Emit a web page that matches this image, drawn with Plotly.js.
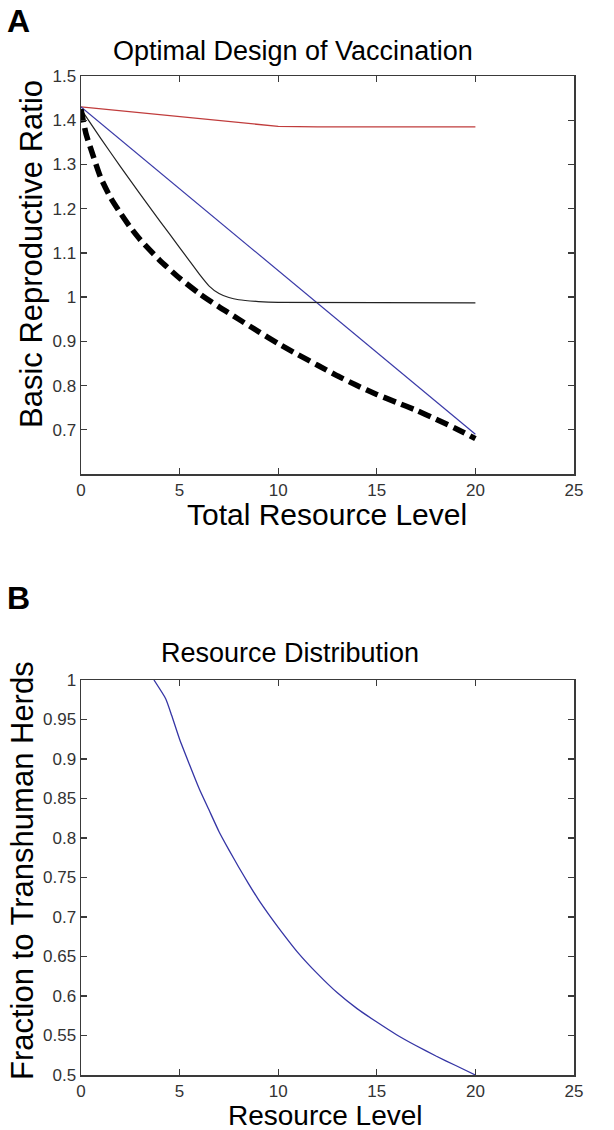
<!DOCTYPE html>
<html>
<head>
<meta charset="utf-8">
<script src="https://cdn.plot.ly/plotly-3.0.1.min.js"></script>
<style>
  html, body { margin: 0; padding: 0; background: #fff; }
  #chart { width: 614px; height: 1130px; }
</style>
</head>
<body>
<div id="chart"></div>
<script>
// Panel A: basic reproductive ratio against total resource level
const redLevel = [0, 2, 4, 6, 8, 10, 12, 20];
const redRatio = [1.43, 1.421, 1.412, 1.403, 1.394, 1.386, 1.385, 1.385];

const blueLevel = [0, 20];
const blueRatio = [1.43, 0.69];

const blackLevel = [0, 1, 2, 3, 4, 5, 5.5, 6, 6.5, 7, 7.5, 8, 9, 10, 20];
const blackRatio = [1.425, 1.359, 1.295, 1.233, 1.172, 1.112, 1.082, 1.052, 1.025, 1.008, 0.999, 0.994, 0.99, 0.988, 0.987];

const optimalLevel = [0, 0.25, 0.5, 1, 1.5, 2, 2.5, 3, 4, 5, 6, 7, 8, 9, 10, 11, 12, 13, 14, 15, 16, 17, 18, 19, 20];
const optimalRatio = [1.425, 1.37, 1.335, 1.27, 1.225, 1.19, 1.158, 1.13, 1.083, 1.043, 1.008, 0.978, 0.95, 0.922, 0.895, 0.87, 0.846, 0.822, 0.8, 0.78, 0.762, 0.744, 0.724, 0.703, 0.68];

// Panel B: fraction of resources going to transhuman herds
const resourceLevel = [3.7, 4.3, 4.6, 5.0, 5.5, 6.0, 6.5, 7.0, 7.5, 8.0, 8.5, 9.0, 9.5, 10, 11, 12, 13, 14, 15, 16, 17, 18, 19, 20];
const transhumanFraction = [1.0, 0.976, 0.955, 0.925, 0.893, 0.862, 0.835, 0.808, 0.785, 0.763, 0.742, 0.722, 0.704, 0.687, 0.655, 0.628, 0.604, 0.584, 0.567, 0.551, 0.537, 0.524, 0.512, 0.5];

// Tick labels
const xTicks = [0, 5, 10, 15, 20, 25];
const xTickText = ['0', '5', '10', '15', '20', '25'];
const ratioTicks = [0.7, 0.8, 0.9, 1.0, 1.1, 1.2, 1.3, 1.4, 1.5];
const ratioTickText = ['0.7', '0.8', '0.9', '1', '1.1', '1.2', '1.3', '1.4', '1.5'];
const fractionTicks = [0.5, 0.55, 0.6, 0.65, 0.7, 0.75, 0.8, 0.85, 0.9, 0.95, 1.0];
const fractionTickText = ['0.5', '0.55', '0.6', '0.65', '0.7', '0.75', '0.8', '0.85', '0.9', '0.95', '1'];

const FONT = 'Liberation Sans, Arial, Helvetica, sans-serif';
const W = 614, H = 1130;
const px = x => x / W;          // pixel column -> paper x
const py = y => 1 - y / H;      // pixel row -> paper y

const traces = [
  { x: redLevel, y: redRatio, mode: 'lines', line: { color: '#c03c3c', width: 1.3 }, xaxis: 'x', yaxis: 'y' },
  { x: blueLevel, y: blueRatio, mode: 'lines', line: { color: '#3a3aa8', width: 1.2 }, xaxis: 'x', yaxis: 'y' },
  { x: blackLevel, y: blackRatio, mode: 'lines', line: { color: '#222222', width: 1.2, shape: 'spline', smoothing: 0.4 }, xaxis: 'x', yaxis: 'y' },
  { x: optimalLevel, y: optimalRatio, mode: 'lines', line: { color: '#000000', width: 5.5, dash: '13px,6px', shape: 'spline', smoothing: 0.6 }, xaxis: 'x', yaxis: 'y' },
  { x: resourceLevel, y: transhumanFraction, mode: 'lines', line: { color: '#3535a5', width: 1.3, shape: 'spline', smoothing: 0.5 }, xaxis: 'x2', yaxis: 'y2' }
];

const axisBase = {
  showgrid: false,
  zeroline: false,
  showline: true,
  linecolor: '#3a3a3a',
  linewidth: 1.5,
  mirror: 'allticks',
  ticks: 'inside',
  ticklen: 6,
  tickwidth: 1.3,
  tickcolor: '#3a3a3a',
  tickfont: { family: FONT, size: 17, color: '#333333' },
  fixedrange: true
};

const layout = {
  width: W,
  height: H,
  margin: { l: 0, r: 0, t: 0, b: 0 },
  paper_bgcolor: '#ffffff',
  plot_bgcolor: '#ffffff',
  showlegend: false,
  xaxis: Object.assign({}, axisBase, {
    domain: [px(81), px(574)], range: [0, 25], anchor: 'y',
    tickmode: 'array', tickvals: xTicks, ticktext: xTickText
  }),
  yaxis: Object.assign({}, axisBase, {
    domain: [py(474), py(76)], range: [0.6, 1.5], anchor: 'x',
    tickmode: 'array', tickvals: ratioTicks, ticktext: ratioTickText
  }),
  xaxis2: Object.assign({}, axisBase, {
    domain: [px(81), px(574)], range: [0, 25], anchor: 'y2',
    tickmode: 'array', tickvals: xTicks, ticktext: xTickText
  }),
  yaxis2: Object.assign({}, axisBase, {
    domain: [py(1075), py(680)], range: [0.5, 1.0], anchor: 'x2',
    tickmode: 'array', tickvals: fractionTicks, ticktext: fractionTickText
  }),
  annotations: [
    { text: '<b>A</b>', x: px(5), y: py(21), xanchor: 'left', yanchor: 'middle', font: { family: FONT, size: 32, color: '#000' } },
    { text: '<b>B</b>', x: px(5), y: py(598), xanchor: 'left', yanchor: 'middle', font: { family: FONT, size: 32, color: '#000' } },
    { text: 'Optimal Design of Vaccination', x: px(293), y: py(51), xanchor: 'center', yanchor: 'middle', font: { family: FONT, size: 27, color: '#000' } },
    { text: 'Total Resource Level', x: px(327), y: py(514), xanchor: 'center', yanchor: 'middle', font: { family: FONT, size: 30, color: '#000' } },
    { text: 'Basic Reproductive Ratio', x: px(31), y: py(254), xanchor: 'center', yanchor: 'middle', textangle: -90, font: { family: FONT, size: 31, color: '#000' } },
    { text: 'Resource Distribution', x: px(290), y: py(653), xanchor: 'center', yanchor: 'middle', font: { family: FONT, size: 27, color: '#000' } },
    { text: 'Resource Level', x: px(325), y: py(1115), xanchor: 'center', yanchor: 'middle', font: { family: FONT, size: 28, color: '#000' } },
    { text: 'Fraction to Transhuman Herds', x: px(22), y: py(871), xanchor: 'center', yanchor: 'middle', textangle: -90, font: { family: FONT, size: 31, color: '#000' } }
  ].map(a => Object.assign({ xref: 'paper', yref: 'paper', showarrow: false }, a))
};

Plotly.newPlot('chart', traces, layout, { staticPlot: true, displayModeBar: false });
</script>
</body>
</html>
